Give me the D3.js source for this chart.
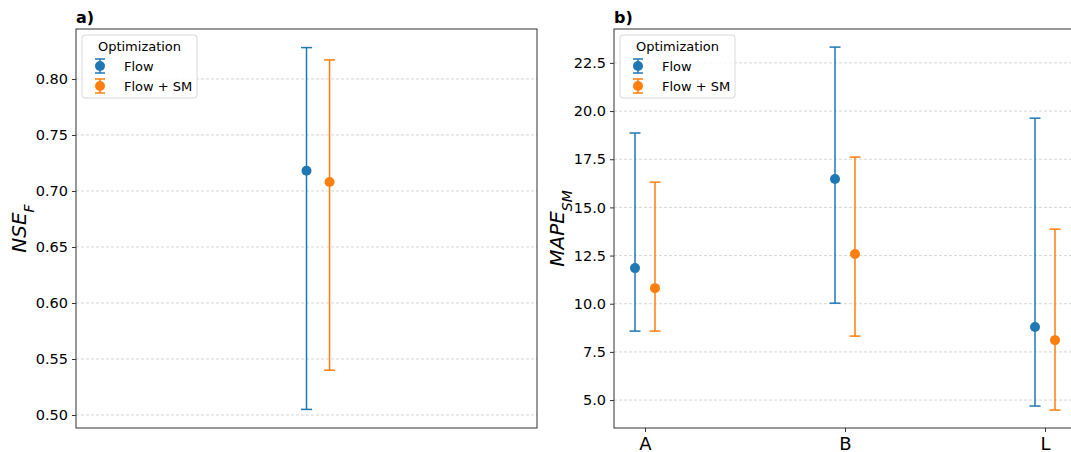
<!DOCTYPE html>
<head>
  <meta charset="utf-8">
  <script src="https://d3js.org/d3.v7.min.js"></script>
  <style>
    body { margin:0; background:#fff; }
    text { font-family: 'DejaVu Sans', sans-serif; fill:#000; }
  </style>
</head>
<body>
<script>
  // data
  var groups = ['Flow', 'Flow + SM'];
  var colors = ['#1f77b4', '#ff7f0e'];

  // panel a) NSE_F, one category (index = group)
  var nseMean = [0.718, 0.708];
  var nseLow  = [0.505, 0.540];
  var nseHigh = [0.828, 0.817];
  var nseTicks = [0.50, 0.55, 0.60, 0.65, 0.70, 0.75, 0.80];

  // panel b) MAPE_SM per region
  var regions = ['A', 'B', 'L'];
  var flowMean = [11.85, 16.47, 8.79];
  var flowLow  = [8.58, 10.03, 4.69];
  var flowHigh = [18.86, 23.32, 19.63];
  var smMean = [10.81, 12.58, 8.11];
  var smLow  = [8.58, 8.32, 4.48];
  var smHigh = [16.31, 17.61, 13.87];
  var mapeTicks = [5.0, 7.5, 10.0, 12.5, 15.0, 17.5, 20.0, 22.5];

  var width = 1071, height = 452;
  var svg = d3.select('body').append('svg')
    .attr('width', width).attr('height', height);

  var plotTop = 29, plotBottom = 428;

  function panel(opts) {
    var g = svg.append('g');
    var x = d3.scaleLinear().domain(opts.xdom).range([opts.left, opts.right]);
    var y = d3.scaleLinear().domain(opts.ydom).range([plotBottom, plotTop]);

    // grid
    g.selectAll('.grid').data(opts.yticks).enter().append('line')
      .attr('x1', opts.left).attr('x2', opts.right)
      .attr('y1', d => y(d)).attr('y2', d => y(d))
      .attr('stroke', '#cccccc').attr('stroke-width', 0.8)
      .attr('stroke-dasharray', '3,2');

    // y axis
    var yAxis = d3.axisLeft(y).tickValues(opts.yticks)
      .tickFormat(d3.format(opts.fmt)).tickSize(4).tickPadding(4);
    var ya = g.append('g').attr('transform', 'translate(' + opts.left + ',0)').call(yAxis);
    ya.select('.domain').remove();
    ya.selectAll('.tick line').attr('stroke', '#333');
    ya.selectAll('.tick text').style('font-size', '14.5px').attr('fill', '#000')
      .style('font-family', "'DejaVu Sans', sans-serif");

    if (opts.xcats) {
      var xAxis = d3.axisBottom(x).tickValues(d3.range(opts.xcats.length))
        .tickFormat(i => opts.xcats[i]).tickSize(4).tickPadding(5);
      var xa = g.append('g').attr('transform', 'translate(0,' + plotBottom + ')').call(xAxis);
      xa.select('.domain').remove();
      xa.selectAll('.tick line').attr('stroke', '#333');
      xa.selectAll('.tick text').style('font-size', '18px').attr('fill', '#000')
        .style('font-family', "'DejaVu Sans', sans-serif");
    }

    // error bars + points
    opts.series.forEach(function(s, k) {
      var pts = s.mean.map((m, i) => ({x: (opts.pos ? opts.pos[i] : i) + opts.dodge[k], m: m, lo: s.lo[i], hi: s.hi[i]}));
      var sg = g.append('g');
      sg.selectAll('.v').data(pts).enter().append('line')
        .attr('x1', d => x(d.x)).attr('x2', d => x(d.x))
        .attr('y1', d => y(d.lo)).attr('y2', d => y(d.hi))
        .attr('stroke', colors[k]).attr('stroke-width', 1.5);
      ['lo', 'hi'].forEach(function(key) {
        sg.selectAll('.c' + key).data(pts).enter().append('line')
          .attr('x1', d => x(d.x) - 5.5).attr('x2', d => x(d.x) + 5.5)
          .attr('y1', d => y(d[key])).attr('y2', d => y(d[key]))
          .attr('stroke', colors[k]).attr('stroke-width', 1.5);
      });
      sg.selectAll('circle').data(pts).enter().append('circle')
        .attr('cx', d => x(d.x)).attr('cy', d => y(d.m)).attr('r', 5)
        .attr('fill', colors[k]);
    });

    // spines
    g.append('rect').attr('x', opts.left).attr('y', plotTop)
      .attr('width', opts.right - opts.left).attr('height', plotBottom - plotTop)
      .attr('fill', 'none').attr('stroke', '#333').attr('stroke-width', 1);

    // panel title
    g.append('text').attr('x', opts.left).attr('y', plotTop - 6)
      .style('font-size', '16px').style('font-weight', 'bold').text(opts.title);

    // y label
    var yl = g.append('text')
      .attr('transform', 'translate(' + opts.ylx + ',' + ((plotTop + plotBottom) / 2) + ') rotate(-90)')
      .attr('text-anchor', 'middle')
      .style('font-size', '20px').style('font-style', 'italic');
    yl.append('tspan').text(opts.ylabel);
    yl.append('tspan').attr('baseline-shift', 'sub').style('font-size', '14px').text(opts.ysub);

    // legend
    var lg = g.append('g').attr('transform', 'translate(' + (opts.left + 6) + ',' + (plotTop + 6) + ')');
    lg.append('rect').attr('width', 115).attr('height', 63).attr('rx', 3)
      .attr('fill', '#fff').attr('fill-opacity', 0.8)
      .attr('stroke', '#d8d8d8').attr('stroke-width', 1);
    lg.append('text').attr('x', 57.5).attr('y', 16).attr('text-anchor', 'middle')
      .style('font-size', '13px').text('Optimization');
    groups.forEach(function(name, k) {
      var yy = 31 + k * 20;
      var row = lg.append('g').attr('transform', 'translate(18,' + yy + ')');
      row.append('line').attr('x1', 0).attr('x2', 0).attr('y1', -7).attr('y2', 7)
        .attr('stroke', colors[k]).attr('stroke-width', 1.5);
      row.append('line').attr('x1', -5).attr('x2', 5).attr('y1', -7).attr('y2', -7)
        .attr('stroke', colors[k]).attr('stroke-width', 1.5);
      row.append('line').attr('x1', -5).attr('x2', 5).attr('y1', 7).attr('y2', 7)
        .attr('stroke', colors[k]).attr('stroke-width', 1.5);
      row.append('circle').attr('r', 5).attr('fill', colors[k]);
      row.append('text').attr('x', 24).attr('y', 5).style('font-size', '13px').text(name);
    });
  }

  panel({
    left: 76, right: 537, xdom: [-0.5, 0.5], ydom: [0.4884, 0.8446],
    yticks: nseTicks, fmt: '.2f', dodge: [0, 0.05], pos: [0],
    series: [
      {mean: [nseMean[0]], lo: [nseLow[0]], hi: [nseHigh[0]]},
      {mean: [nseMean[1]], lo: [nseLow[1]], hi: [nseHigh[1]]}
    ],
    title: 'a)', ylabel: 'NSE', ysub: 'F', ylx: 26
  });

  panel({
    left: 614, right: 1076, xdom: [-0.155, 2.155], ydom: [3.55, 24.26],
    yticks: mapeTicks, fmt: '.1f', dodge: [-0.05, 0.05], xcats: regions,
    series: [
      {mean: flowMean, lo: flowLow, hi: flowHigh},
      {mean: smMean, lo: smLow, hi: smHigh}
    ],
    title: 'b)', ylabel: 'MAPE', ysub: 'SM', ylx: 564
  });
</script>
</body>
